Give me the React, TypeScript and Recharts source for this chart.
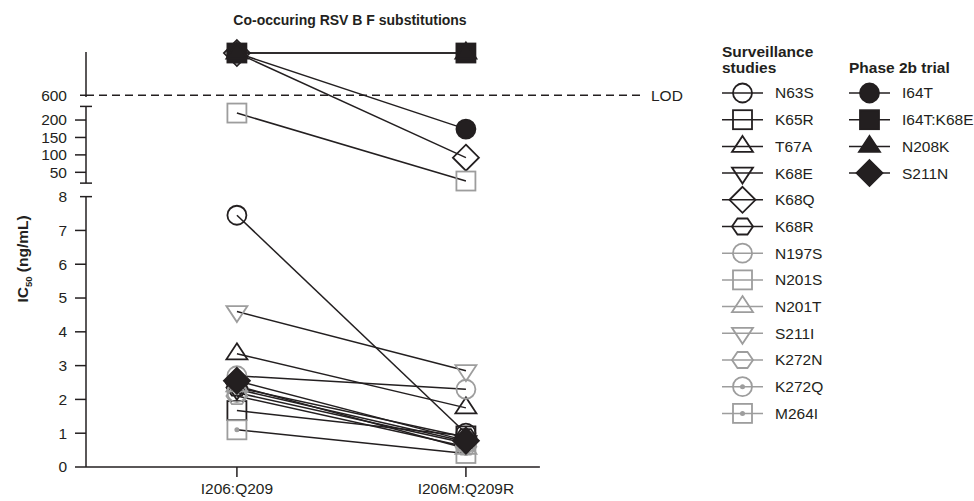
import { LineChart, Line, XAxis, YAxis, ReferenceLine } from 'recharts';

const FONT = '"Liberation Sans", Arial, Helvetica, sans-serif';
const INK = '#231f20';
const GRAY = '#9d9d9d';

const CATEGORIES = ['I206:Q209', 'I206M:Q209R'];
const SURVEILLANCE = ['N63S', 'K65R', 'T67A', 'K68E', 'K68Q', 'K68R', 'N197S', 'N201S', 'N201T', 'S211I', 'K272N', 'K272Q', 'M264I'];
const PHASE_2B = ['I64T', 'I64T:K68E', 'N208K', 'S211N'];
const ALL = [...SURVEILLANCE, ...PHASE_2B];

const LOD = 600;
const ABOVE_LOD = 1000; // anything > LOD is drawn in the top band

// IC50 (ng/mL), same order as ALL
const IC50_I206_Q209 = [7.45, 1.67, 3.35, 2.3, ABOVE_LOD, 2.35, 2.7, 220, 2.4, 4.6, 2.1, 2.2, 1.1, ABOVE_LOD, ABOVE_LOD, ABOVE_LOD, 2.55];
const IC50_I206M_Q209R = [1.0, 0.92, 1.75, 0.75, 92, 0.88, 2.3, 25, 0.55, 2.85, 0.6, 0.7, 0.4, 174, ABOVE_LOD, ABOVE_LOD, 0.78];

const LOW_TICKS = [0, 1, 2, 3, 4, 5, 6, 7, 8];
const MID_TICKS = [50, 100, 150, 200];

type Shape = 'circle' | 'square' | 'triUp' | 'triDown' | 'diamond' | 'hexagon' | 'circleDot' | 'squareDot';
const SHAPES: Shape[] = [
  'circle', 'square', 'triUp', 'triDown', 'diamond', 'hexagon',
  'circle', 'square', 'triUp', 'triDown', 'hexagon', 'circleDot', 'squareDot',
  'circle', 'square', 'triUp', 'diamond',
];

// broken y axis: 0-8 linear, then a compressed 50-200 band, then LOD and "above LOD"
const Y_MAX = 12.28;
const MID_BASE = 8.72;
const MID_SCALE = 1.547 / 150;
const MID_BOTTOM = 8.4;
const MID_TOP = 10.67;
const LOD_POS = 11.0;
const TOP_START = 10.95;
const ABOVE_POS = 12.25;
const toAxis = (v: number) => (v > LOD ? ABOVE_POS : v <= 8 ? v : MID_BASE + (v - 50) * MID_SCALE);

const X_MIN = -0.659;
const X_MAX = 1.782;
const X_AXIS_END = 1.323;
const AX = 86;

const rows = CATEGORIES.map((c, ci) => {
  const src = ci === 0 ? IC50_I206_Q209 : IC50_I206M_Q209R;
  const row: Record<string, number | string> = { pos: ci, name: c };
  ALL.forEach((_, i) => {
    row[`s${i}`] = toAxis(src[i]);
  });
  return row;
});

type TickDef = { pos: number; label: string; kind: 'tick' | 'cap' | 'lod' };
const yTickDefs: TickDef[] = [
  ...LOW_TICKS.map((v) => ({ pos: v, label: String(v), kind: (v === 8 ? 'cap' : 'tick') as TickDef['kind'] })),
  { pos: MID_BOTTOM, label: '', kind: 'cap' },
  ...MID_TICKS.map((v) => ({ pos: toAxis(v), label: String(v), kind: 'tick' as const })),
  { pos: MID_TOP, label: '', kind: 'cap' },
  { pos: LOD_POS, label: String(LOD), kind: 'lod' },
];

const styleFor = (i: number) => {
  if (i >= SURVEILLANCE.length) return { stroke: INK, fill: INK };
  if (i >= 6) return { stroke: GRAY, fill: 'none' };
  return { stroke: INK, fill: 'none' };
};

function Marker({ cx, cy, shape, stroke, fill }: { cx: number; cy: number; shape: Shape; stroke: string; fill: string }) {
  const common = { stroke, fill, strokeWidth: 1.8 };
  switch (shape) {
    case 'circle':
      return <circle cx={cx} cy={cy} r={9.5} {...common} />;
    case 'circleDot':
      return (
        <g>
          <circle cx={cx} cy={cy} r={9.5} {...common} />
          <circle cx={cx} cy={cy} r={2.5} fill={stroke} />
        </g>
      );
    case 'square':
      return <rect x={cx - 9.5} y={cy - 9.5} width={19} height={19} {...common} />;
    case 'squareDot':
      return (
        <g>
          <rect x={cx - 9.5} y={cy - 9.5} width={19} height={19} {...common} />
          <circle cx={cx} cy={cy} r={2.5} fill={stroke} />
        </g>
      );
    case 'triUp':
      return <polygon points={`${cx},${cy - 10.5} ${cx + 10.5},${cy + 5.5} ${cx - 10.5},${cy + 5.5}`} {...common} />;
    case 'triDown':
      return <polygon points={`${cx},${cy + 10.5} ${cx + 10.5},${cy - 5.5} ${cx - 10.5},${cy - 5.5}`} {...common} />;
    case 'diamond':
      return <polygon points={`${cx},${cy - 13} ${cx + 13},${cy} ${cx},${cy + 13} ${cx - 13},${cy}`} {...common} />;
    case 'hexagon':
      return (
        <polygon
          points={`${cx - 10.5},${cy} ${cx - 5},${cy - 8} ${cx + 5},${cy - 8} ${cx + 10.5},${cy} ${cx + 5},${cy + 8} ${cx - 5},${cy + 8}`}
          {...common}
        />
      );
  }
  return null;
}

function YTick(props: any) {
  const { y, payload } = props;
  const t = yTickDefs.find((d) => Math.abs(d.pos - payload.value) < 1e-6);
  if (!t) return null;
  return (
    <g>
      {t.kind === 'tick' && <line x1={AX - 11} x2={AX} y1={y} y2={y} stroke={INK} strokeWidth={1.5} />}
      {t.kind === 'cap' && <line x1={AX - 6} x2={AX + 6} y1={y} y2={y} stroke={INK} strokeWidth={1.5} />}
      {t.kind === 'lod' && <line x1={AX - 6} x2={AX} y1={y} y2={y} stroke={INK} strokeWidth={1.5} />}
      {t.label && (
        <text x={AX - 19} y={y} dy="0.35em" textAnchor="end" fill={INK} fontSize={15.5} fontFamily={FONT}>
          {t.label}
        </text>
      )}
    </g>
  );
}

function LegendRow({ x, y, name, i }: { x: number; y: number; name: string; i: number }) {
  const s = styleFor(i);
  return (
    <g>
      <line x1={x} x2={x + 41} y1={y} y2={y} stroke={s.stroke} strokeWidth={1.5} />
      <Marker cx={x + 20.5} cy={y} shape={SHAPES[i]} stroke={s.stroke} fill={s.fill} />
      <text x={x + 53} y={y} dy="0.35em" fill={INK} fontSize={15.5} fontFamily={FONT}>
        {name}
      </text>
    </g>
  );
}

export default function App() {
  return (
    <div style={{ position: 'absolute', left: 0, top: 0, width: 974, height: 501, background: '#fff' }}>
      <LineChart width={974} height={501} data={rows} margin={{ top: 52, right: 329, bottom: 4, left: 26 }}>
        <XAxis
          dataKey="pos"
          type="number"
          domain={[X_MIN, X_MAX]}
          ticks={[0, 1]}
          tickFormatter={(v: number) => CATEGORIES[v]}
          axisLine={false}
          tickLine={{ stroke: INK, strokeWidth: 1.5 }}
          tickSize={10}
          tickMargin={6}
          height={30}
          tick={{ fill: INK, fontSize: 15.5, fontFamily: FONT }}
        />
        <YAxis
          type="number"
          domain={[0, Y_MAX]}
          ticks={yTickDefs.map((d) => d.pos)}
          interval={0}
          axisLine={false}
          tickLine={false}
          width={60}
          tick={(p: any) => <YTick {...p} />}
        />
        <ReferenceLine ifOverflow="visible" segment={[{ x: X_MIN, y: 0 }, { x: X_AXIS_END, y: 0 }]} stroke={INK} strokeWidth={1.5} />
        <ReferenceLine ifOverflow="visible" segment={[{ x: X_MIN, y: 0 }, { x: X_MIN, y: 8 }]} stroke={INK} strokeWidth={1.5} />
        <ReferenceLine ifOverflow="visible" segment={[{ x: X_MIN, y: MID_BOTTOM }, { x: X_MIN, y: MID_TOP }]} stroke={INK} strokeWidth={1.5} />
        <ReferenceLine ifOverflow="visible" segment={[{ x: X_MIN, y: TOP_START }, { x: X_MIN, y: Y_MAX }]} stroke={INK} strokeWidth={1.5} />
        <ReferenceLine
          y={LOD_POS}
          stroke={INK}
          strokeWidth={1.5}
          strokeDasharray="8 5"
          label={{ value: 'LOD', position: 'right', offset: 6, fill: INK, fontSize: 15.5, fontFamily: FONT }}
        />
        {ALL.map((name, i) => {
          const s = styleFor(i);
          return (
            <Line
              key={name}
              name={name}
              dataKey={`s${i}`}
              type="linear"
              stroke={INK}
              strokeWidth={1.5}
              isAnimationActive={false}
              activeDot={false}
              dot={(p: any) => (
                <Marker key={`${name}-${p.index}`} cx={p.cx} cy={p.cy} shape={SHAPES[i]} stroke={s.stroke} fill={s.fill} />
              )}
            />
          );
        })}
      </LineChart>
      <svg width={974} height={501} style={{ position: 'absolute', left: 0, top: 0, pointerEvents: 'none' }}>
        <text x={350} y={20} dy="0.35em" textAnchor="middle" fill={INK} fontSize={14} fontWeight="bold" fontFamily={FONT}>
          Co-occuring RSV B F substitutions
        </text>
        <text
          transform="translate(27.5, 259) rotate(-90)"
          textAnchor="middle"
          fill={INK}
          fontSize={15.5}
          fontWeight="bold"
          fontFamily={FONT}
        >
          IC<tspan fontSize={9.5} dy={4}>50</tspan>
          <tspan dy={-4}> (ng/mL)</tspan>
        </text>
        <text x={722} y={52} dy="0.35em" fill={INK} fontSize={15.5} fontWeight="bold" fontFamily={FONT}>
          Surveillance
        </text>
        <text x={722} y={68} dy="0.35em" fill={INK} fontSize={15.5} fontWeight="bold" fontFamily={FONT}>
          studies
        </text>
        <text x={849} y={68} dy="0.35em" fill={INK} fontSize={15.5} fontWeight="bold" fontFamily={FONT}>
          Phase 2b trial
        </text>
        {SURVEILLANCE.map((name, i) => (
          <LegendRow key={name} x={722} y={93 + i * 26.7} name={name} i={i} />
        ))}
        {PHASE_2B.map((name, j) => (
          <LegendRow key={name} x={849} y={93 + j * 26.7} name={name} i={SURVEILLANCE.length + j} />
        ))}
      </svg>
    </div>
  );
}
